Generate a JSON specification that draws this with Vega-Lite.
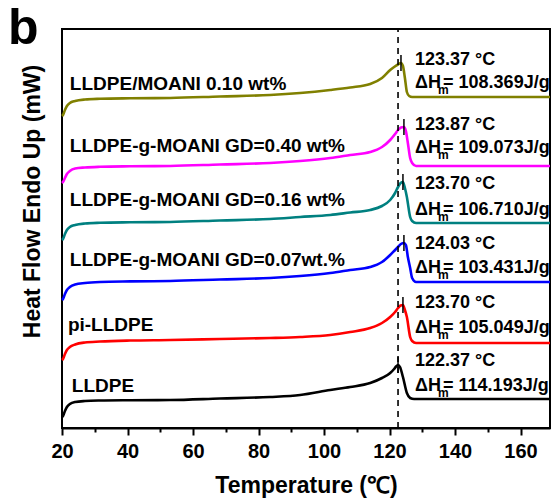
{
  "$schema": "https://vega.github.io/schema/vega-lite/v6.json",
  "width": 488,
  "height": 399,
  "autosize": {"type": "none"},
  "padding": {"left": 62, "top": 29, "right": 5, "bottom": 74},
  "config": {
    "font": "Liberation Sans",
    "view": {"stroke": "black", "strokeWidth": 2}
  },
  "title": {
    "text": "b",
    "anchor": "start",
    "frame": "group",
    "fontSize": 50,
    "fontWeight": "bold",
    "color": "black",
    "baseline": "bottom",
    "offset": -76,
    "dx": -54
  },
  "datasets": {
    "curves": [
      {"s":"MOANI010","t":20.0,"v":312},{"s":"MOANI010","t":20.3,"v":313},{"s":"MOANI010","t":20.9,"v":318},{"s":"MOANI010","t":21.5,"v":322},{"s":"MOANI010","t":22.4,"v":325},{"s":"MOANI010","t":24.0,"v":327},{"s":"MOANI010","t":27.0,"v":328.5},{"s":"MOANI010","t":31.6,"v":329.2},{"s":"MOANI010","t":40.8,"v":329.7},{"s":"MOANI010","t":53.0,"v":330},{"s":"MOANI010","t":68.2,"v":331.5},{"s":"MOANI010","t":83.5,"v":333},{"s":"MOANI010","t":92.7,"v":335},{"s":"MOANI010","t":101.9,"v":338},{"s":"MOANI010","t":108.0,"v":340.5},{"s":"MOANI010","t":114.1,"v":344},{"s":"MOANI010","t":117.7,"v":350},{"s":"MOANI010","t":120.2,"v":358},{"s":"MOANI010","t":121.4,"v":361},{"s":"MOANI010","t":122.6,"v":363.5},{"s":"MOANI010","t":123.5,"v":365},{"s":"MOANI010","t":124.1,"v":362},{"s":"MOANI010","t":124.7,"v":350},{"s":"MOANI010","t":125.3,"v":336},{"s":"MOANI010","t":126.0,"v":332},{"s":"MOANI010","t":126.9,"v":331},{"s":"MOANI010","t":128.1,"v":331},{"s":"MOANI010","t":169,"v":331},
      {"s":"GD040","t":20.0,"v":245},{"s":"GD040","t":20.3,"v":246},{"s":"GD040","t":20.9,"v":250},{"s":"GD040","t":21.5,"v":254},{"s":"GD040","t":22.4,"v":257},{"s":"GD040","t":24.0,"v":259.5},{"s":"GD040","t":27.0,"v":260.5},{"s":"GD040","t":31.6,"v":261.2},{"s":"GD040","t":40.8,"v":261.7},{"s":"GD040","t":53.0,"v":262},{"s":"GD040","t":68.2,"v":263.5},{"s":"GD040","t":83.5,"v":265},{"s":"GD040","t":92.7,"v":267},{"s":"GD040","t":101.9,"v":270},{"s":"GD040","t":108.0,"v":273},{"s":"GD040","t":114.1,"v":276},{"s":"GD040","t":117.7,"v":281},{"s":"GD040","t":120.2,"v":288},{"s":"GD040","t":121.7,"v":294},{"s":"GD040","t":122.6,"v":298},{"s":"GD040","t":123.5,"v":300.5},{"s":"GD040","t":124.4,"v":301},{"s":"GD040","t":125.0,"v":297},{"s":"GD040","t":125.6,"v":285},{"s":"GD040","t":126.3,"v":270},{"s":"GD040","t":126.9,"v":265},{"s":"GD040","t":128.1,"v":262},{"s":"GD040","t":169,"v":262},
      {"s":"GD016","t":20.0,"v":188},{"s":"GD016","t":20.3,"v":189},{"s":"GD016","t":20.9,"v":194},{"s":"GD016","t":21.5,"v":198},{"s":"GD016","t":22.4,"v":201},{"s":"GD016","t":24.0,"v":203},{"s":"GD016","t":27.0,"v":204.5},{"s":"GD016","t":31.6,"v":205.2},{"s":"GD016","t":40.8,"v":205.7},{"s":"GD016","t":53.0,"v":206},{"s":"GD016","t":68.2,"v":207.5},{"s":"GD016","t":83.5,"v":209},{"s":"GD016","t":92.7,"v":211},{"s":"GD016","t":101.9,"v":213},{"s":"GD016","t":108.0,"v":215.5},{"s":"GD016","t":114.1,"v":218},{"s":"GD016","t":117.7,"v":222},{"s":"GD016","t":120.2,"v":228},{"s":"GD016","t":121.7,"v":235},{"s":"GD016","t":122.6,"v":241},{"s":"GD016","t":123.4,"v":245},{"s":"GD016","t":124.1,"v":246},{"s":"GD016","t":124.7,"v":240},{"s":"GD016","t":125.3,"v":231},{"s":"GD016","t":126.3,"v":211},{"s":"GD016","t":126.9,"v":207},{"s":"GD016","t":128.1,"v":205},{"s":"GD016","t":169,"v":205},
      {"s":"GD007","t":20.0,"v":128},{"s":"GD007","t":20.3,"v":129},{"s":"GD007","t":20.9,"v":134},{"s":"GD007","t":21.5,"v":138},{"s":"GD007","t":22.4,"v":141},{"s":"GD007","t":24.0,"v":143.5},{"s":"GD007","t":27.0,"v":145},{"s":"GD007","t":31.6,"v":146},{"s":"GD007","t":40.8,"v":146.6},{"s":"GD007","t":53.0,"v":147},{"s":"GD007","t":68.2,"v":148.5},{"s":"GD007","t":83.5,"v":150},{"s":"GD007","t":92.7,"v":152},{"s":"GD007","t":101.9,"v":155},{"s":"GD007","t":108.0,"v":158},{"s":"GD007","t":114.1,"v":161},{"s":"GD007","t":117.7,"v":166},{"s":"GD007","t":120.2,"v":173},{"s":"GD007","t":121.7,"v":178},{"s":"GD007","t":122.6,"v":181},{"s":"GD007","t":123.5,"v":184},{"s":"GD007","t":124.4,"v":185},{"s":"GD007","t":125.0,"v":183},{"s":"GD007","t":125.6,"v":171},{"s":"GD007","t":126.3,"v":160},{"s":"GD007","t":126.9,"v":150},{"s":"GD007","t":128.1,"v":146},{"s":"GD007","t":169,"v":146},
      {"s":"piLLDPE","t":20.0,"v":68},{"s":"piLLDPE","t":20.3,"v":69},{"s":"piLLDPE","t":20.9,"v":74},{"s":"piLLDPE","t":21.5,"v":78},{"s":"piLLDPE","t":22.4,"v":81},{"s":"piLLDPE","t":24.0,"v":83.5},{"s":"piLLDPE","t":27.0,"v":85.5},{"s":"piLLDPE","t":31.6,"v":86.5},{"s":"piLLDPE","t":40.8,"v":87.5},{"s":"piLLDPE","t":53.0,"v":88},{"s":"piLLDPE","t":68.2,"v":89},{"s":"piLLDPE","t":83.5,"v":90},{"s":"piLLDPE","t":92.7,"v":91},{"s":"piLLDPE","t":101.9,"v":93},{"s":"piLLDPE","t":108.0,"v":96},{"s":"piLLDPE","t":114.1,"v":100},{"s":"piLLDPE","t":117.7,"v":105},{"s":"piLLDPE","t":120.2,"v":111},{"s":"piLLDPE","t":121.7,"v":116},{"s":"piLLDPE","t":122.6,"v":120},{"s":"piLLDPE","t":123.4,"v":122.5},{"s":"piLLDPE","t":124.1,"v":123},{"s":"piLLDPE","t":124.7,"v":118},{"s":"piLLDPE","t":125.3,"v":111},{"s":"piLLDPE","t":126.3,"v":91},{"s":"piLLDPE","t":126.9,"v":87},{"s":"piLLDPE","t":128.1,"v":85},{"s":"piLLDPE","t":169,"v":85},
      {"s":"LLDPE","t":20.0,"v":11},{"s":"LLDPE","t":20.3,"v":12},{"s":"LLDPE","t":20.9,"v":17},{"s":"LLDPE","t":21.5,"v":21},{"s":"LLDPE","t":22.4,"v":24},{"s":"LLDPE","t":24.0,"v":26},{"s":"LLDPE","t":27.0,"v":27},{"s":"LLDPE","t":31.6,"v":27.5},{"s":"LLDPE","t":40.8,"v":27.8},{"s":"LLDPE","t":53.0,"v":28},{"s":"LLDPE","t":68.2,"v":29.5},{"s":"LLDPE","t":83.5,"v":31},{"s":"LLDPE","t":92.7,"v":33},{"s":"LLDPE","t":101.9,"v":38},{"s":"LLDPE","t":108.0,"v":41},{"s":"LLDPE","t":114.1,"v":45},{"s":"LLDPE","t":117.7,"v":50},{"s":"LLDPE","t":120.2,"v":55},{"s":"LLDPE","t":121.4,"v":59},{"s":"LLDPE","t":122.0,"v":61.5},{"s":"LLDPE","t":122.6,"v":63},{"s":"LLDPE","t":123.2,"v":61},{"s":"LLDPE","t":124.1,"v":51},{"s":"LLDPE","t":125.3,"v":35},{"s":"LLDPE","t":126.3,"v":30},{"s":"LLDPE","t":127.5,"v":29},{"s":"LLDPE","t":169,"v":29}
    ],
    "left": [
      {"t":22.4,"v":344,"text":"LLDPE/MOANI 0.10 wt%"},
      {"t":22.4,"v":282,"text":"LLDPE-g-MOANI GD=0.40 wt%"},
      {"t":22.4,"v":228,"text":"LLDPE-g-MOANI GD=0.16 wt%"},
      {"t":22.4,"v":168,"text":"LLDPE-g-MOANI GD=0.07wt.%"},
      {"t":21.8,"v":103,"text":"pi-LLDPE"},
      {"t":23.0,"v":42,"text":"LLDPE"}
    ],
    "temps": [
      {"t":127.8,"v":368,"text":"123.37 °C"},
      {"t":127.8,"v":303,"text":"123.87 °C"},
      {"t":127.8,"v":244,"text":"123.70 °C"},
      {"t":127.8,"v":184,"text":"124.03 °C"},
      {"t":127.8,"v":125,"text":"123.70 °C"},
      {"t":127.8,"v":67,"text":"122.37 °C"}
    ],
    "enthalpies": [
      {"t":127.8,"v":345,"text":"= 108.369J/g"},
      {"t":127.8,"v":280,"text":"= 109.073J/g"},
      {"t":127.8,"v":218,"text":"= 106.710J/g"},
      {"t":127.8,"v":160,"text":"= 103.431J/g"},
      {"t":127.8,"v":100,"text":"= 105.049J/g"},
      {"t":127.8,"v":42,"text":"= 114.193J/g"}
    ],
    "markers": [
      {"t":123.5,"v":357,"v2":373},
      {"t":124.4,"v":293,"v2":309},
      {"t":124.1,"v":238,"v2":254},
      {"t":124.4,"v":177,"v2":193},
      {"t":124.1,"v":115,"v2":131},
      {"t":122.6,"v":55,"v2":71}
    ],
    "dashed": [{"t":122.6, "v":0, "v2":399}]
  },
  "encoding": {
    "x": {
      "field": "t", "type": "quantitative",
      "scale": {"domain": [20, 169], "nice": false, "zero": false},
      "axis": {
        "title": "Temperature (℃)",
        "values": [20, 30, 40, 50, 60, 70, 80, 90, 100, 110, 120, 130, 140, 150, 160],
        "labelExpr": "datum.value % 20 === 0 ? datum.label : ''",
        "tickSize": {"condition": {"test": "datum.value % 20 === 0", "value": 7}, "value": 4},
        "tickWidth": 2, "tickColor": "black",
        "domainColor": "black", "domainWidth": 2,
        "labelFontSize": 20, "labelFontWeight": "bold", "labelColor": "black",
        "labelPadding": 6, "labelFlush": false, "labelOverlap": false,
        "titleFontSize": 23, "titleFontWeight": "bold", "titleColor": "black",
        "titlePadding": 13, "grid": false
      }
    },
    "y": {
      "field": "v", "type": "quantitative",
      "scale": {"domain": [0, 399], "nice": false, "zero": false},
      "axis": {
        "title": "Heat Flow Endo Up (mW)",
        "labels": false, "ticks": false, "domain": false, "grid": false,
        "titleFontSize": 23, "titleFontWeight": "bold", "titleColor": "black",
        "titlePadding": 18, "titleY": 172
      }
    }
  },
  "layer": [
    {
      "data": {"name": "curves"},
      "mark": {"type": "line", "strokeWidth": 2.6, "interpolate": "monotone"},
      "encoding": {
        "color": {
          "field": "s", "type": "nominal",
          "scale": {
            "domain": ["MOANI010", "GD040", "GD016", "GD007", "piLLDPE", "LLDPE"],
            "range": ["#808000", "#ff00ff", "#008080", "#0000ff", "#ff0000", "#000000"]
          },
          "legend": null
        }
      }
    },
    {
      "data": {"name": "dashed"},
      "mark": {"type": "rule", "color": "black", "strokeWidth": 1.6, "strokeDash": [6, 5]},
      "encoding": {"y2": {"field": "v2"}}
    },
    {
      "data": {"name": "markers"},
      "mark": {"type": "rule", "color": "black", "strokeWidth": 1.5},
      "encoding": {"y2": {"field": "v2"}}
    },
    {
      "data": {"name": "left"},
      "mark": {"type": "text", "align": "left", "baseline": "middle", "fontSize": 19, "fontWeight": "bold", "color": "black"},
      "encoding": {"text": {"field": "text"}}
    },
    {
      "data": {"name": "temps"},
      "mark": {"type": "text", "align": "left", "baseline": "middle", "fontSize": 18, "fontWeight": "bold", "color": "black"},
      "encoding": {"text": {"field": "text"}}
    },
    {
      "data": {"name": "enthalpies"},
      "mark": {"type": "text", "align": "left", "baseline": "middle", "fontSize": 18, "fontWeight": "bold", "color": "black"},
      "encoding": {"text": {"value": "ΔH"}}
    },
    {
      "data": {"name": "enthalpies"},
      "mark": {"type": "text", "align": "left", "baseline": "middle", "fontSize": 12, "fontWeight": "bold", "color": "black", "dx": 23, "dy": 7},
      "encoding": {"text": {"value": "m"}}
    },
    {
      "data": {"name": "enthalpies"},
      "mark": {"type": "text", "align": "left", "baseline": "middle", "fontSize": 18, "fontWeight": "bold", "color": "black", "dx": 28},
      "encoding": {"text": {"field": "text"}}
    }
  ]
}
